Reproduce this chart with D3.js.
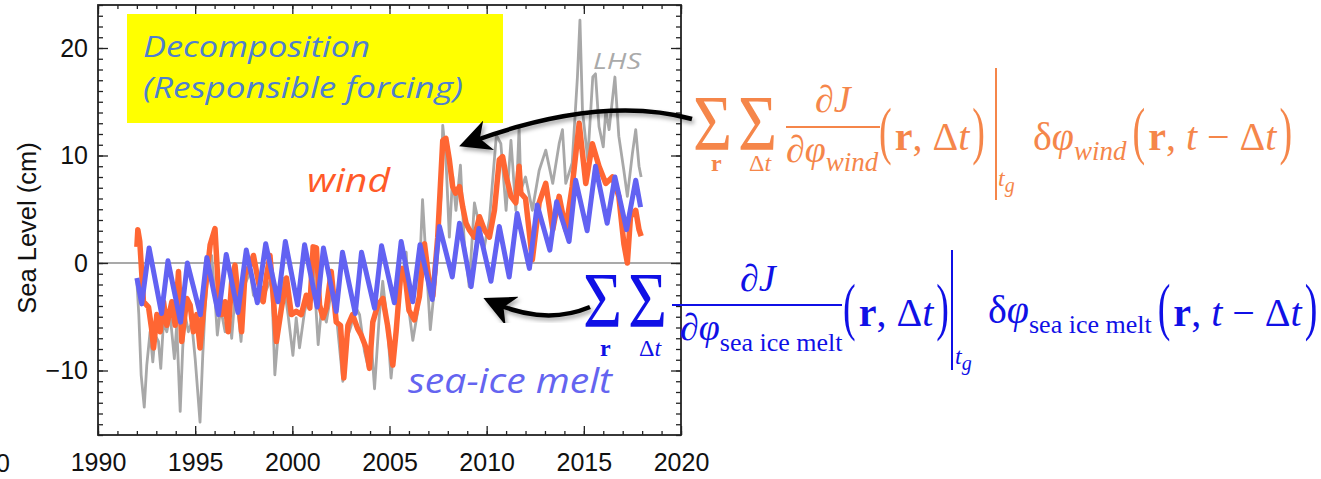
<!DOCTYPE html>
<html>
<head>
<meta charset="utf-8">
<style>
  body { margin: 0; background: #fff; }
  svg { display: block; }
  .ax path { display: none; }
  .ax line { stroke: #222; stroke-width: 1.3; }
  .ax text { font-family: "Liberation Sans", Arial, sans-serif; font-size: 25px; fill: #111; }
  .note { font-family: "Open Sans", sans-serif; font-style: italic; }
  .eq { font-family: "Liberation Serif", "Times New Roman", serif; }
</style>
</head>
<body>
<div id="chart"></div>
<script src="https://d3js.org/d3.v7.min.js"></script>
<script>
var width = 1321, height = 479;

// axis ticks
var xMajor = [1990, 1995, 2000, 2005, 2010, 2015, 2020];
var xMinor = d3.range(1990, 2021, 1);
var yMajor = [-10, 0, 10, 20];
var yMinor = d3.range(-16, 25, 1);

// LHS (grey)
var lhsT = [1992.0,1992.1,1992.22,1992.38,1992.51,1992.68,1992.82,1992.94,1993.11,1993.23,1993.37,1993.54,1993.71,1993.93,
  1994.05,1994.23,1994.36,1994.48,1994.65,1994.82,1995.0,1995.12,1995.25,1995.39,1995.51,1995.68,1995.85,
  1996.02,1996.14,1996.31,1996.54,1996.71,1996.88,1997.05,1997.22,1997.36,1997.56,1997.83,1998.0,1998.17,1998.42,1998.68,1998.93,
  1999.1,1999.35,1999.52,1999.78,2000.03,2000.2,2000.37,2000.63,2000.89,2001.06,2001.33,2001.5,2001.75,
  2002.0,2002.26,2002.43,2002.6,2002.77,2003.03,2003.2,2003.46,2003.71,2003.92,2004.05,2004.23,2004.48,2004.65,2004.88,
  2005.08,2005.34,2005.6,2005.86,2006.0,2006.2,2006.46,2006.7,2006.88,2007.1,2007.37,2007.65,2007.74,2007.9,
  2008.08,2008.25,2008.42,2008.65,2008.85,2009.1,2009.37,2009.63,2009.88,2010.14,2010.5,2010.73,2011.0,2011.25,2011.5,2011.67,2011.76,
  2012.0,2012.35,2012.7,2013.04,2013.4,2013.73,2013.9,2014.07,2014.4,2014.67,2014.8,2014.93,2015.2,2015.46,2015.6,2015.78,
  2016.0,2016.13,2016.3,2016.6,2016.8,2017.06,2017.24,2017.5,2017.67,2017.84,2017.95];
var lhsV = [-1.7,-4.8,-10.4,-13.4,-9.5,-6.4,-9.2,-6.7,-7.3,-9.8,-5.5,-6.4,-4.8,-8.9,
  -5.8,-13.8,-7.9,-4.8,-6.4,-5.5,-8.9,-11.7,-14.8,-8.6,-4.2,-0.2,0.7,
  -3.3,-6.7,-4.2,-6.4,-3.9,-7.0,-3.0,-4.8,-7.3,-2.0,-0.8,-3.0,-3.3,-3.6,-2.4,-1.4,
  -10.4,-4.8,-1.4,-4.8,-8.6,-5.1,-7.9,-4.5,-2.7,0.4,-7.6,-4.2,-5.5,
  -2.7,-4.8,-7.9,-11.0,-7.3,-5.8,-3.9,-4.8,-8.2,-9.8,-7.0,-11.7,-4.8,-1.7,-5.5,
  -10.7,-5.8,-1.7,1.0,-4.4,-7.2,-4.4,5.9,0.3,-6.2,-1.3,6.2,12.8,9.9,
  2.4,8.1,4.9,9.1,1.8,-2.2,5.6,3.4,1.5,4.0,11.9,11.1,4.9,11.4,4.9,12.7,6.8,
  8.0,4.9,8.6,10.5,7.4,11.1,12.4,7.4,9.3,17.3,22.6,14.2,9.6,17.3,17.6,12.7,
  10.8,14.2,12.4,17.3,11.8,8.6,6.2,10.2,12.4,9.0,8.0];

// wind (orange)
var windT = [1992.0,1992.05,1992.15,1992.34,1992.6,1992.75,1992.86,1993.03,1993.2,1993.37,1993.54,1993.8,1993.97,
  1994.14,1994.31,1994.57,1994.74,1994.91,1995.08,1995.25,1995.51,1995.77,1996.02,1996.2,1996.37,1996.54,1996.7,1996.88,
  1997.05,1997.22,1997.39,1997.56,1997.83,1998.0,1998.25,1998.5,1998.68,1998.85,1999.05,1999.18,1999.44,1999.7,1999.95,
  2000.2,2000.46,2000.72,2000.9,2001.07,2001.24,2001.4,2001.58,2001.75,2002.0,2002.26,2002.48,2002.65,2002.86,
  2003.1,2003.36,2003.54,2003.8,2003.97,2004.14,2004.4,2004.66,2004.9,2005.17,2005.34,2005.6,2005.77,
  2006.0,2006.28,2006.54,2006.8,2007.05,2007.23,2007.48,2007.74,2007.9,2008.08,2008.25,2008.4,2008.6,2008.77,2008.94,
  2009.1,2009.37,2009.63,2009.88,2010.14,2010.4,2010.65,2010.82,2011.0,2011.25,2011.5,2011.67,2011.76,
  2012.0,2012.35,2012.7,2013.04,2013.4,2013.73,2014.07,2014.4,2014.76,2014.93,2015.1,2015.44,2015.78,
  2016.13,2016.47,2016.8,2017.06,2017.24,2017.4,2017.67,2017.84,2017.95];
var windV = [1.5,3.1,2.0,-3.6,-4.1,-6.0,-7.9,-4.8,-6.4,-3.6,-5.8,-3.6,-5.8,
  -0.8,-7.3,-3.3,-3.9,-6.4,-4.8,-7.9,-2.7,1.7,3.2,-2.7,-4.8,-3.6,-6.4,-1.7,
  -0.2,-3.3,-6.4,-1.1,-0.2,0.7,-1.7,-3.6,-1.1,0.7,-3.9,-7.3,-4.2,-1.4,-4.8,
  -4.5,-4.8,-3.0,-4.2,1.5,1.4,-3.9,-5.1,-4.2,-0.8,-5.5,-5.8,-10.7,-5.8,
  -4.8,-6.1,-6.7,-7.9,-9.8,-5.5,-3.9,-3.3,-5.8,-9.5,-6.4,-0.5,-0.6,
  -4.4,-5.3,-3.1,1.8,-1.9,-3.1,2.4,11.4,11.6,9.6,7.1,6.5,7.1,5.2,3.7,
  3.1,2.4,4.3,3.1,2.4,4.9,9.6,9.9,8.1,6.2,5.6,9.0,6.5,
  6.0,0.3,5.6,7.4,3.1,6.2,3.1,7.1,13.0,10.2,7.4,11.1,9.0,
  7.4,8.0,6.2,1.8,0.0,4.3,4.9,3.1,2.5];

// sea-ice melt (blue), turning points
var iceT = [1992.0,1992.25,1992.63,1993.27,1993.6,1994.25,1994.6,1995.27,1995.6,1996.2,1996.6,1997.2,1997.63,1998.2,1998.63,
  1999.26,1999.64,2000.27,2000.63,2001.28,2001.6,2002.26,2002.58,2003.24,2003.56,2004.23,2004.59,2005.25,2005.6,
  2006.2,2006.57,2007.2,2007.57,2008.23,2008.6,2009.2,2009.6,2010.22,2010.65,2011.16,2011.57,2012.2,2012.6,
  2013.25,2013.6,2014.24,2014.58,2015.17,2015.6,2016.2,2016.6,2017.2,2017.67,2017.92];
var iceV = [-1.4,-3.8,1.4,-4.7,0.2,-5.5,0.0,-4.8,0.5,-4.8,0.8,-4.6,1.2,-3.7,1.8,
  -3.6,2.0,-3.9,1.7,-4.1,1.4,-4.5,1.0,-4.7,1.0,-4.2,1.6,-3.7,2.0,
  -3.6,1.7,-3.4,3.4,-1.3,3.7,-2.2,3.2,-1.7,3.4,-1.3,4.6,-0.5,5.4,
  1.2,5.7,2.0,7.7,3.0,9.0,3.7,8.0,3.1,7.7,5.2];

var svg = d3.select("#chart").append("svg")
  .attr("width", width).attr("height", height);

var defs = svg.append("defs");
defs.append("filter").attr("id", "shadow")
  .attr("x", "-20%").attr("y", "-50%").attr("width", "140%").attr("height", "200%")
  .append("feDropShadow").attr("dx", 2).attr("dy", 3).attr("stdDeviation", 2)
  .attr("flood-color", "#000").attr("flood-opacity", 0.35);
defs.append("marker").attr("id", "head")
  .attr("viewBox", "0 0 10 10").attr("refX", 7).attr("refY", 5)
  .attr("markerWidth", 7).attr("markerHeight", 7).attr("orient", "auto")
  .append("path").attr("d", "M0,0 L10,5 L0,10 L3,5 Z").attr("fill", "#000");

var x = d3.scaleLinear().domain([1990, 2020]).range([98, 681]);
var y = d3.scaleLinear().domain([-16, 24]).range([435, 5]);

// yellow box behind everything
svg.append("rect").attr("x", 127).attr("y", 14).attr("width", 376).attr("height", 109).attr("fill", "#ffff00");

// zero line
svg.append("line").attr("x1", x(1990)).attr("x2", x(2020)).attr("y1", y(0)).attr("y2", y(0))
  .attr("stroke", "#a9a9a9").attr("stroke-width", 2);

var line = d3.line().x(function(d) { return x(d[0]); }).y(function(d) { return y(d[1]); });

svg.append("path").datum(d3.zip(lhsT, lhsV)).attr("d", line)
  .attr("fill", "none").attr("stroke", "#a8a8a8").attr("stroke-width", 2.8).attr("stroke-linejoin", "round");
svg.append("path").datum(d3.zip(windT, windV)).attr("d", line)
  .attr("fill", "none").attr("stroke", "#ff6633").attr("stroke-width", 5.5).attr("stroke-linejoin", "round");
svg.append("path").datum(d3.zip(iceT, iceV)).attr("d", line)
  .attr("fill", "none").attr("stroke", "#6262f2").attr("stroke-width", 5).attr("stroke-linejoin", "round");

// axes, ticks pointing inward on all four sides
function addAxis(axis, tr) {
  return svg.append("g").attr("class", "ax").attr("transform", tr).call(axis);
}
addAxis(d3.axisBottom(x).tickValues(xMajor).tickSize(-9).tickPadding(18).tickFormat(d3.format("d")), "translate(0,435)");
addAxis(d3.axisBottom(x).tickValues(xMinor).tickSize(-4).tickFormat(""), "translate(0,435)");
addAxis(d3.axisTop(x).tickValues(xMajor).tickSize(-9).tickFormat(""), "translate(0,5)");
addAxis(d3.axisTop(x).tickValues(xMinor).tickSize(-4).tickFormat(""), "translate(0,5)");
addAxis(d3.axisLeft(y).tickValues(yMajor).tickSize(-10).tickPadding(10), "translate(98,0)");
addAxis(d3.axisLeft(y).tickValues(yMinor).tickSize(-5).tickFormat(""), "translate(98,0)");
addAxis(d3.axisRight(y).tickValues(yMajor).tickSize(-10).tickFormat(""), "translate(681,0)");
addAxis(d3.axisRight(y).tickValues(yMinor).tickSize(-5).tickFormat(""), "translate(681,0)");

svg.append("rect").attr("x", 98).attr("y", 5).attr("width", 583).attr("height", 430)
  .attr("fill", "none").attr("stroke", "#222").attr("stroke-width", 1.8);

svg.append("text").attr("transform", "translate(36,228) rotate(-90)")
  .attr("text-anchor", "middle").style("font-family", "Liberation Sans, Arial, sans-serif")
  .style("font-size", "25.5px").attr("fill", "#111").text("Sea Level (cm)");

// cut-off label at the far left
svg.append("text").attr("x", 10).attr("y", 472).attr("text-anchor", "end")
  .style("font-family", "Liberation Sans, Arial, sans-serif").style("font-size", "25px").attr("fill", "#111").text("0");

// notes
function note(tx, ty, str, size, len, col) {
  svg.append("text").attr("class", "note").attr("x", tx).attr("y", ty)
    .attr("textLength", len).attr("lengthAdjust", "spacingAndGlyphs")
    .style("font-size", size + "px").attr("fill", col).text(str);
}
note(143, 57, "Decomposition", 30, 227, "#4f7fcf");
note(143, 98, "(Responsible forcing)", 30, 320, "#4f7fcf");
note(593, 69, "LHS", 22, 48, "#aaaaaa");
note(307, 192, "wind", 32, 83, "#ff5a28");
note(408, 393, "sea-ice melt", 34, 204, "#6464f0");

// arrows
svg.append("path").attr("d", "M692,119 Q600,94 468,143")
  .attr("fill", "none").attr("stroke", "#000").attr("stroke-width", 4.5)
  .attr("marker-end", "url(#head)").attr("filter", "url(#shadow)");
svg.append("path").attr("d", "M590,307 Q545,326 492,302")
  .attr("fill", "none").attr("stroke", "#000").attr("stroke-width", 4.5)
  .attr("marker-end", "url(#head)").attr("filter", "url(#shadow)");

// equations
function eq(col, tx, ty, size, parts) {
  var t = svg.append("text").attr("class", "eq").attr("x", tx).attr("y", ty)
    .style("font-size", size + "px").attr("fill", col);
  parts.forEach(function(p) {
    var s = t.append("tspan").text(p[0]);
    if (p[1]) s.style("font-style", p[1]);
    if (p[2]) s.style("font-weight", p[2]);
    if (p[3]) s.style("font-size", p[3] + "px");
    if (p[4]) s.attr("dy", p[4]);
  });
  return t.node().getComputedTextLength();
}
function big(col, tx, ty, ch, size, sx, sy) {
  var t = svg.append("text").attr("class", "eq")
    .attr("transform", "translate(" + tx + "," + ty + ") scale(" + sx + "," + sy + ")")
    .style("font-size", size + "px").attr("fill", col).text(ch);
  return t.node().getComputedTextLength() * sx;
}
function bar(col, x1, y1, x2, y2) {
  svg.append("line").attr("x1", x1).attr("y1", y1).attr("x2", x2).attr("y2", y2)
    .attr("stroke", col).attr("stroke-width", 2);
}
// "( ... )" with tall thin brackets, laid out left to right
function group(col, x0, yb, parts) {
  var xx = x0;
  xx += big(col, xx, yb + 2, "(", 38, 1, 1.65) + 3;
  xx += eq(col, xx, yb, 40, parts) + 3;
  xx += big(col, xx, yb + 2, ")", 38, 1, 1.65);
  return xx;
}
function sigma(col, tx, ty) { big(col, tx, ty, "\u03A3", 60, 1.12, 1.3); }

var orange = "#f5864a", blue = "#1010e6";
var inner = [["r", null, "bold"], [", \u0394"], ["t", "italic"]];
var shifted = [["r", null, "bold"], [", "], ["t", "italic"], [" \u2212 \u0394"], ["t", "italic"]];

// wind
sigma(orange, 693, 149);
sigma(orange, 738, 149);
eq(orange, 711, 171, 24, [["r", null, "bold"]]);
eq(orange, 749, 171, 24, [["\u0394"], ["t", "italic"]]);
eq(orange, 815, 112, 38, [["\u2202"], ["J", "italic"]]);
bar(orange, 786, 127, 880, 127);
eq(orange, 786, 162, 38, [["\u2202"], ["\u03C6", "italic"], ["wind", "italic", null, 27, 9]]);
group(orange, 879, 150, inner);
bar(orange, 996, 68, 996, 200);
eq(orange, 998, 186, 24, [["t", "italic"], ["g", "italic", null, 20, 6]]);
var w2 = 1033 + eq(orange, 1033, 150, 40, [["\u03B4"], ["\u03C6", "italic"], ["wind", "italic", null, 27, 10]]);
group(orange, w2 + 6, 150, shifted);

// sea ice melt
sigma(blue, 583, 326);
sigma(blue, 628, 326);
eq(blue, 600, 356, 24, [["r", null, "bold"]]);
eq(blue, 639, 356, 24, [["\u0394"], ["t", "italic"]]);
eq(blue, 740, 291, 38, [["\u2202"], ["J", "italic"]]);
bar(blue, 672, 305, 842, 305);
eq(blue, 680, 340, 38, [["\u2202"], ["\u03C6", "italic"], ["sea ice melt", null, null, 26, 11]]);
group(blue, 843, 326, inner);
bar(blue, 952, 250, 952, 370);
eq(blue, 955, 364, 24, [["t", "italic"], ["g", "italic", null, 20, 6]]);
var s2 = 988 + eq(blue, 988, 323, 40, [["\u03B4"], ["\u03C6", "italic"], ["sea ice melt", null, null, 26, 10]]);
group(blue, s2 + 6, 326, shifted);
</script>
</body>
</html>
